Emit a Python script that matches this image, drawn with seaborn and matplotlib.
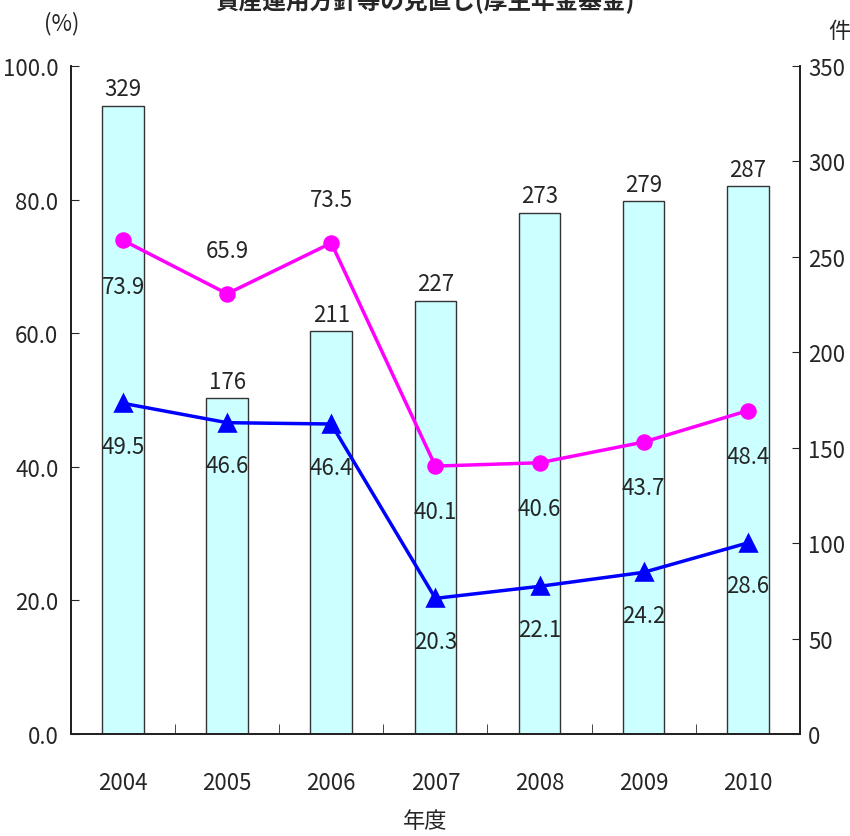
import numpy as np
import matplotlib
matplotlib.use('Agg')
import matplotlib.pyplot as plt
import seaborn as sns

# datos
years = ['2004', '2005', '2006', '2007', '2008', '2009', '2010']
counts = [329, 176, 211, 227, 273, 279, 287]
pct_magenta = [73.9, 65.9, 73.5, 40.1, 40.6, 43.7, 48.4]
pct_blue = [49.5, 46.6, 46.4, 20.3, 22.1, 24.2, 28.6]
magenta_above = [False, True, True, False, False, False, False]

sns.set_style('ticks')
plt.rcParams['font.family'] = ['Noto Sans CJK JP', 'DejaVu Sans']

fig = plt.figure(figsize=(8.5, 8.37), dpi=100)
ax = fig.add_axes([0.0835, 0.1219, 0.8575, 0.7981])
ax2 = ax.twinx()

# barras (eje derecho, cantidad)
sns.barplot(x=years, y=counts, ax=ax, color='#CCFFFF', width=0.4,
            edgecolor='#333333', linewidth=1.0, saturation=1)
ax.set_ylim(0, 350)
ax.set_xlim(-0.5, 6.5)
ax.set_yticks(np.arange(0, 351, 50))
ax.set_ylabel('')
ax.set_xlabel('')
for i, c in enumerate(counts):
    ax.annotate(str(c), (i, c), xytext=(0, 4), textcoords='offset points',
                ha='center', va='bottom', fontsize=16)

# lineas (eje izquierdo, %)
sns.pointplot(x=years, y=pct_magenta, ax=ax2, color='#FF00FF', markers='o',
              markersize=10, linewidth=2.5)
sns.pointplot(x=years, y=pct_blue, ax=ax2, color='#0000FF', markers='^',
              markersize=11, linewidth=2.5)
ax2.set_ylim(0, 100)
ax2.set_xlim(-0.5, 6.5)
ax2.set_yticks(np.arange(0, 101, 20))
ax2.set_yticklabels([f'{v:.1f}' for v in np.arange(0, 101, 20)])
ax2.set_ylabel('')
ax2.set_xlabel('')

for i, v in enumerate(pct_magenta):
    off = 31 if magenta_above[i] else -33
    ax2.annotate(f'{v:.1f}', (i, v), xytext=(0, off), textcoords='offset points',
                 ha='center', va='center', fontsize=16)
for i, v in enumerate(pct_blue):
    ax2.annotate(f'{v:.1f}', (i, v), xytext=(0, -31), textcoords='offset points',
                 ha='center', va='center', fontsize=16)

# lados de los ejes
ax.yaxis.tick_right()
ax2.yaxis.tick_left()

for a in (ax, ax2):
    a.spines['top'].set_visible(False)
    for s in ('left', 'right', 'bottom'):
        a.spines[s].set_color('#222222')
        a.spines[s].set_linewidth(1.3)
ax.tick_params(axis='y', direction='in', length=6, labelsize=16, pad=6,
               right=True, left=False, labelright=True, labelleft=False)
ax2.tick_params(axis='y', direction='in', length=6, labelsize=16, pad=9,
                left=True, right=False, labelleft=True, labelright=False)

ax.set_xticks(range(len(years)))
ax.set_xticklabels(years)
ax.set_xticks(np.arange(-0.5, 7, 1), minor=True)
ax.tick_params(axis='x', which='major', length=0, labelsize=16, pad=27)
ax.tick_params(axis='x', which='minor', direction='in', length=7)
ax2.tick_params(axis='x', which='both', length=0, labelbottom=False)

fig.text(0.5, 0.998, '資産運用方針等の見直し(厚生年金基金)', ha='center', va='center',
         fontsize=17, fontweight='bold')
fig.text(0.073, 0.972, '(%)', ha='center', va='center', fontsize=16)
fig.text(0.988, 0.962, '件', ha='center', va='center', fontsize=16)
fig.text(0.5, 0.018, '年度', ha='center', va='center', fontsize=16)

fig.savefig('out.png', dpi=100)
